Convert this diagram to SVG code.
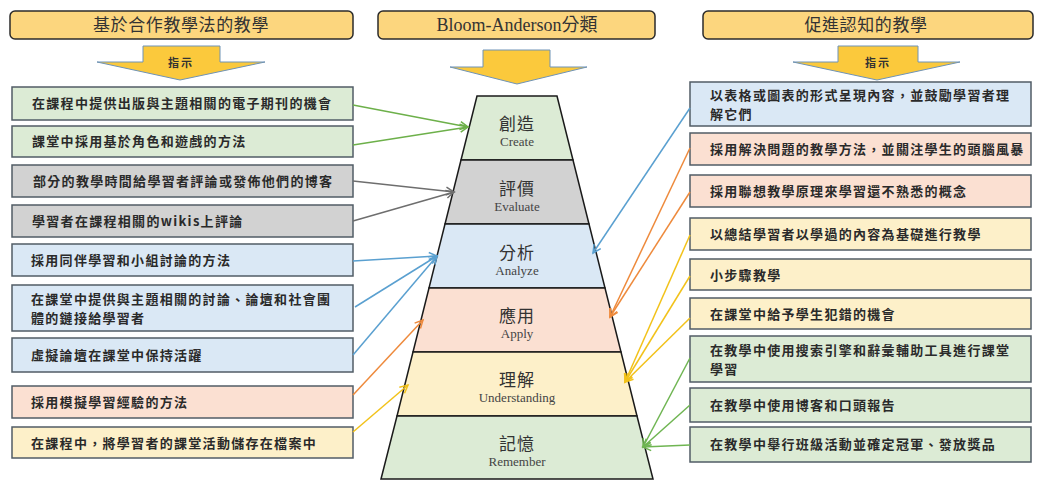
<svg xmlns="http://www.w3.org/2000/svg" width="1039" height="481" viewBox="0 0 1039 481">
<style>
.hdr{fill:#fcd67e;stroke:#2b2b2b;stroke-width:1.5}
.harrow{fill:#fbc93c;stroke:#6f93b6;stroke-width:1}
.htxt{font-family:"Noto Sans CJK TC","Noto Sans CJK SC",sans-serif;font-size:17px;fill:#333;text-anchor:middle;letter-spacing:0.6px}
.hen{font-family:"Liberation Serif","Noto Sans CJK TC",serif;font-size:18px;fill:#333;text-anchor:middle}
.zs{font-family:"Noto Sans CJK TC",sans-serif;font-size:11px;font-weight:bold;fill:#333;text-anchor:middle;letter-spacing:2px}
.box{stroke:#515c66;stroke-width:1.5}
.bt{font-family:"Noto Sans CJK TC","Noto Sans CJK SC",sans-serif;font-size:13px;font-weight:bold;fill:#2a2a2a;letter-spacing:1.3px}
.g{fill:#dcebd5}.gr{fill:#d2d2d2}.b{fill:#dae8f5}.p{fill:#fbe0d2}.y{fill:#fdf0c9}
.lvl{stroke:#1a1a1a;stroke-width:1.5}
.pz{font-family:"Noto Sans CJK TC",sans-serif;font-size:17px;fill:#333;text-anchor:middle;letter-spacing:1px}
.pe{font-family:"Liberation Serif",serif;font-size:13px;fill:#444;text-anchor:middle}
.c{fill:none;stroke-width:1.5}
</style>
<defs>
<marker id="mg" markerUnits="userSpaceOnUse" markerWidth="12" markerHeight="12" refX="9" refY="5" orient="auto"><path d="M1,1 L9,5 L1,9" fill="none" stroke="#6db04a" stroke-width="1.5"/></marker>
<marker id="mk" markerUnits="userSpaceOnUse" markerWidth="12" markerHeight="12" refX="9" refY="5" orient="auto"><path d="M1,1 L9,5 L1,9" fill="none" stroke="#6e6e6e" stroke-width="1.5"/></marker>
<marker id="mb" markerUnits="userSpaceOnUse" markerWidth="12" markerHeight="12" refX="9" refY="5" orient="auto"><path d="M1,1 L9,5 L1,9" fill="none" stroke="#5aa0d0" stroke-width="1.5"/></marker>
<marker id="mo" markerUnits="userSpaceOnUse" markerWidth="12" markerHeight="12" refX="9" refY="5" orient="auto"><path d="M1,1 L9,5 L1,9" fill="none" stroke="#ee8a3c" stroke-width="1.5"/></marker>
<marker id="my" markerUnits="userSpaceOnUse" markerWidth="12" markerHeight="12" refX="9" refY="5" orient="auto"><path d="M1,1 L9,5 L1,9" fill="none" stroke="#f2c21a" stroke-width="1.5"/></marker>
<marker id="mr" markerUnits="userSpaceOnUse" markerWidth="12" markerHeight="12" refX="9" refY="5" orient="auto"><path d="M1,1 L9,5 L1,9" fill="none" stroke="#6fb552" stroke-width="1.5"/></marker>
</defs>
<rect width="1039" height="481" fill="#ffffff"/>

<g id="header-left">
<rect class="hdr" x="10" y="11" width="343" height="28" rx="5"/>
<text class="htxt" x="181" y="31">基於合作教學法的教學</text>
<polygon class="harrow" points="143,46 220,46 220,62 265,62 180,80 97,62 143,62"/>
<text class="zs" x="181" y="67">指示</text>
</g>
<g id="header-mid">
<rect class="hdr" x="378" y="11" width="277" height="28" rx="5"/>
<text class="hen" x="517" y="31">Bloom-Anderson分類</text>
<polygon class="harrow" points="483,50 550,50 550,67 587,67 517,84 450,67 483,67"/>
</g>
<g id="header-right">
<rect class="hdr" x="703" y="11" width="330" height="28" rx="5"/>
<text class="htxt" x="866" y="31">促進認知的教學</text>
<polygon class="harrow" points="838,46 918,46 918,62 960,62 877,80 793,62 838,62"/>
<text class="zs" x="878" y="67">指示</text>
</g>

<g id="pyramid">
<g id="lvl-create"><polygon class="lvl g" points="477,96 557,96 573,160 461,160"/><text class="pz" x="517" y="130">創造</text><text class="pe" x="517" y="146">Create</text></g>
<g id="lvl-evaluate"><polygon class="lvl gr" points="461,160 573,160 589,224 445,224"/><text class="pz" x="517" y="195">評價</text><text class="pe" x="517" y="211">Evaluate</text></g>
<g id="lvl-analyze"><polygon class="lvl b" points="445,224 589,224 605,288 429,288"/><text class="pz" x="517" y="259">分析</text><text class="pe" x="517" y="275">Analyze</text></g>
<g id="lvl-apply"><polygon class="lvl p" points="429,288 605,288 621,352 413,352"/><text class="pz" x="517" y="322">應用</text><text class="pe" x="517" y="338">Apply</text></g>
<g id="lvl-understanding"><polygon class="lvl y" points="413,352 621,352 637,416 397,416"/><text class="pz" x="517" y="386">理解</text><text class="pe" x="517" y="402">Understanding</text></g>
<g id="lvl-remember"><polygon class="lvl g" points="397,416 637,416 653,479 381,479"/><text class="pz" x="517" y="450">記憶</text><text class="pe" x="517" y="466">Remember</text></g>
</g>

<g id="left-nodes">
<g id="L1"><rect class="box g" x="12" y="87" width="341" height="33"/><text class="bt" x="32" y="108">在課程中提供出版與主題相關的電子期刊的機會</text></g>
<g id="L2"><rect class="box g" x="12" y="126" width="341" height="31"/><text class="bt" x="32" y="146">課堂中採用基於角色和遊戲的方法</text></g>
<g id="L3"><rect class="box gr" x="12" y="165" width="341" height="32"/><text class="bt" x="33" y="186">部分的教學時間給學習者評論或發佈他們的博客</text></g>
<g id="L4"><rect class="box gr" x="12" y="205" width="341" height="32"/><text class="bt" x="32" y="226">學習者在課程相關的wikis上評論</text></g>
<g id="L5"><rect class="box b" x="12" y="244" width="341" height="32"/><text class="bt" x="31" y="265">採用同伴學習和小組討論的方法</text></g>
<g id="L6"><rect class="box b" x="12" y="285" width="341" height="46"/><text class="bt" x="31" y="304">在課堂中提供與主題相關的討論、論壇和社會團</text><text class="bt" x="31" y="323">體的鏈接給學習者</text></g>
<g id="L7"><rect class="box b" x="12" y="338" width="341" height="34"/><text class="bt" x="31" y="360">虛擬論壇在課堂中保持活躍</text></g>
<g id="L8"><rect class="box p" x="12" y="386" width="341" height="32"/><text class="bt" x="31" y="407">採用模擬學習經驗的方法</text></g>
<g id="L9"><rect class="box y" x="12" y="427" width="341" height="31"/><text class="bt" x="31" y="448">在課程中，將學習者的課堂活動儲存在檔案中</text></g>
</g>

<g id="right-nodes">
<g id="R1"><rect class="box b" x="690" y="82" width="341" height="44"/><text class="bt" x="710" y="100">以表格或圖表的形式呈現內容，並鼓勵學習者理</text><text class="bt" x="710" y="119">解它們</text></g>
<g id="R2"><rect class="box p" x="690" y="133" width="341" height="32"/><text class="bt" x="710" y="154">採用解決問題的教學方法，並關注學生的頭腦風暴</text></g>
<g id="R3"><rect class="box p" x="690" y="175" width="341" height="32"/><text class="bt" x="710" y="196">採用聯想教學原理來學習還不熟悉的概念</text></g>
<g id="R4"><rect class="box y" x="690" y="218" width="341" height="32"/><text class="bt" x="710" y="239">以總結學習者以學過的內容為基礎進行教學</text></g>
<g id="R5"><rect class="box y" x="690" y="259" width="341" height="31"/><text class="bt" x="710" y="280">小步驟教學</text></g>
<g id="R6"><rect class="box y" x="690" y="298" width="341" height="31"/><text class="bt" x="710" y="319">在課堂中給予學生犯錯的機會</text></g>
<g id="R7"><rect class="box g" x="690" y="336" width="341" height="46"/><text class="bt" x="710" y="355">在教學中使用搜索引擎和辭彙輔助工具進行課堂</text><text class="bt" x="710" y="374">學習</text></g>
<g id="R8"><rect class="box g" x="690" y="388" width="341" height="34"/><text class="bt" x="710" y="410">在教學中使用博客和口頭報告</text></g>
<g id="R9"><rect class="box g" x="690" y="427" width="341" height="35"/><text class="bt" x="710" y="449">在教學中舉行班級活動並確定冠軍、發放獎品</text></g>
</g>

<g id="connectors">
<line class="c" stroke="#6db04a" x1="353" y1="105" x2="468" y2="127" marker-end="url(#mg)"/>
<line class="c" stroke="#6db04a" x1="353" y1="145" x2="468" y2="127" marker-end="url(#mg)"/>
<line class="c" stroke="#6e6e6e" x1="353" y1="181" x2="454" y2="192" marker-end="url(#mk)"/>
<line class="c" stroke="#6e6e6e" x1="353" y1="221" x2="454" y2="192" marker-end="url(#mk)"/>
<line class="c" stroke="#5aa0d0" x1="353" y1="261" x2="437" y2="256" marker-end="url(#mb)"/>
<line class="c" stroke="#5aa0d0" x1="355" y1="307" x2="437" y2="256" marker-end="url(#mb)"/>
<line class="c" stroke="#5aa0d0" x1="353" y1="355" x2="437" y2="256" marker-end="url(#mb)"/>
<line class="c" stroke="#ee8a3c" x1="353" y1="395" x2="423" y2="320" marker-end="url(#mo)"/>
<line class="c" stroke="#f2c21a" x1="353" y1="432" x2="408" y2="385" marker-end="url(#my)"/>
<line class="c" stroke="#5aa0d0" x1="690" y1="108" x2="593" y2="253" marker-end="url(#mb)"/>
<line class="c" stroke="#ee8a3c" x1="690" y1="148" x2="610" y2="317" marker-end="url(#mo)"/>
<line class="c" stroke="#ee8a3c" x1="690" y1="192" x2="610" y2="317" marker-end="url(#mo)"/>
<line class="c" stroke="#f2c21a" x1="690" y1="235" x2="625" y2="382" marker-end="url(#my)"/>
<line class="c" stroke="#f2c21a" x1="690" y1="276" x2="625" y2="382" marker-end="url(#my)"/>
<line class="c" stroke="#f2c21a" x1="690" y1="318" x2="625" y2="382" marker-end="url(#my)"/>
<line class="c" stroke="#6fb552" x1="690" y1="358" x2="643" y2="447" marker-end="url(#mr)"/>
<line class="c" stroke="#6fb552" x1="690" y1="405" x2="643" y2="447" marker-end="url(#mr)"/>
<line class="c" stroke="#6fb552" x1="690" y1="445" x2="643" y2="447" marker-end="url(#mr)"/>
</g>
</svg>
